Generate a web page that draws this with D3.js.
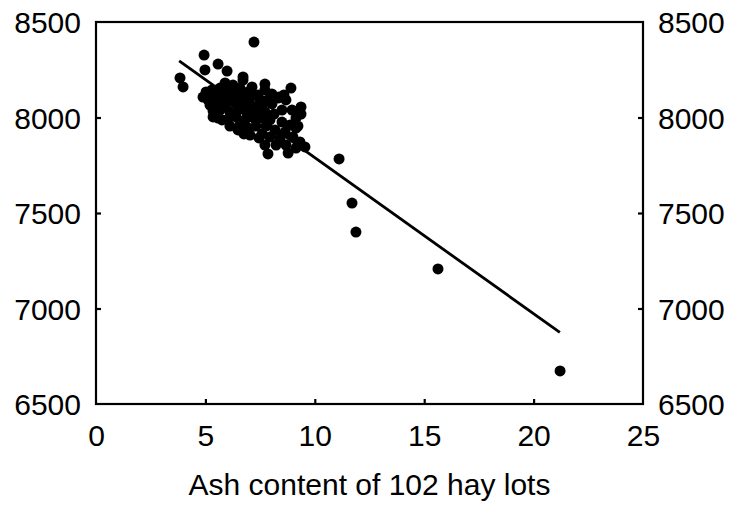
<!DOCTYPE html>
<html>
<head>
<meta charset="utf-8">
<script src="https://cdn.jsdelivr.net/npm/d3@7/dist/d3.min.js"></script>
<style>
  html, body { margin: 0; padding: 0; background: #fff; }
  svg { display: block; }
  text { font-family: "Liberation Sans", Arial, sans-serif; fill: #000; }
</style>
</head>
<body>
<svg id="chart" width="730" height="506"></svg>
<script>
// ---- data ----
const ashX = [
  3.84, 3.98, 4.94, 4.98, 5.58, 5.99, 6.72, 7.22, 7.72, 8.91,
  8.59, 8.32, 9.37, 9.37, 9.14, 9.55, 7.86, 8.78, 8.23, 7.04,
  7.45, 6.49, 5.76, 5.35, 4.89, 5.03, 11.11, 11.70, 11.88, 15.63,
  21.21,
  5.90, 6.26, 6.72, 7.13, 7.72,
  5.30, 5.67, 6.12, 6.58, 6.95, 7.40, 8.04,
  5.12, 5.44, 5.80, 6.22, 6.58, 7.04, 7.50, 7.86, 8.36, 8.68,
  5.21, 5.58, 5.94, 6.35, 6.72, 7.13, 7.59, 8.04, 8.50,
  5.35, 5.67, 6.12, 6.49, 6.90, 7.31, 7.72, 8.14, 8.96, 9.14,
  5.58, 6.03, 6.40, 6.81, 7.22, 7.59, 7.95, 8.50, 8.87, 9.23,
  6.12, 6.58, 6.95, 7.31, 7.77, 8.18, 8.64,
  6.76, 7.59, 7.95, 8.41, 9.00, 9.32,
  8.68, 9.14, 7.72,
  6.35, 7.27, 6.03, 6.86
];
const energyY = [
  8207, 8160, 8327, 8249, 8280, 8243, 8212, 8395, 8175, 8154,
  8118, 8102, 8055, 8018, 7945, 7846, 7809, 7814, 7856, 7908,
  7893, 7935, 7987, 8003, 8107, 8134, 7783, 7552, 7400, 7207,
  6673,
  8181, 8170, 8196, 8160, 8144,
  8144, 8154, 8144, 8154, 8134, 8118, 8123,
  8092, 8113, 8118, 8107, 8113, 8102, 8092, 8092, 8107, 8092,
  8065, 8076, 8071, 8076, 8065, 8060, 8060, 8071, 8039,
  8034, 8039, 8029, 8039, 8024, 8029, 8029, 8018, 8039, 7997,
  7997, 7992, 8003, 7987, 7997, 7997, 7987, 7976, 7961, 7955,
  7955, 7961, 7945, 7955, 7955, 7935, 7924,
  7914, 7914, 7898, 7893, 7898, 7872,
  7856, 7840, 7856,
  8134, 8050, 8092, 8092
];
const fitX = [3.8, 21.2];
const fitY = [8296, 6875];
const xTicks = [0, 5, 10, 15, 20, 25];
const yTicks = [6500, 7000, 7500, 8000, 8500];
const xTitle = "Ash content of 102 hay lots";

// ---- layout ----
const svg = d3.select("#chart");
const L = 96, R = 643, T = 22, B = 404;
const x = d3.scaleLinear().domain([0, 25]).range([L, R]);
const y = d3.scaleLinear().domain([6500, 8500]).range([B, T]);
const fontSize = 30;

// frame
svg.append("rect")
  .attr("x", L).attr("y", T).attr("width", R - L).attr("height", B - T)
  .attr("fill", "none").attr("stroke", "#000").attr("stroke-width", 2.2);

function styleAxis(g) {
  g.select(".domain").remove();
  g.selectAll(".tick line").attr("stroke", "#000").attr("stroke-width", 2.2);
  g.selectAll(".tick text").attr("font-size", fontSize)
    .attr("font-family", "'Liberation Sans', Arial, sans-serif").attr("fill", "#000");
}

// left axis, inward ticks
const yLeft = svg.append("g").attr("transform", `translate(${L},0)`)
  .call(d3.axisLeft(y).tickValues(yTicks).tickSize(-5).tickFormat(d3.format("d")));
styleAxis(yLeft);
yLeft.selectAll(".tick text").attr("x", -15).attr("dy", "0.35em");

// right axis, inward ticks
const yRight = svg.append("g").attr("transform", `translate(${R},0)`)
  .call(d3.axisRight(y).tickValues(yTicks).tickSize(-5).tickFormat(d3.format("d")));
styleAxis(yRight);
yRight.selectAll(".tick text").attr("x", 15).attr("dy", "0.35em");

// bottom axis, inward ticks
const xBottom = svg.append("g").attr("transform", `translate(0,${B})`)
  .call(d3.axisBottom(x).tickValues(xTicks).tickSize(-5).tickFormat(d3.format("d")));
styleAxis(xBottom);
xBottom.selectAll(".tick text").attr("y", 21).attr("dy", "0.71em");
// hide tick marks at the plot corners
xBottom.selectAll(".tick line").filter(d => d === 0 || d === 25).remove();
yLeft.selectAll(".tick line").filter(d => d === 6500 || d === 8500).remove();
yRight.selectAll(".tick line").filter(d => d === 6500 || d === 8500).remove();

// axis title
svg.append("text")
  .attr("x", (L + R) / 2).attr("y", 495)
  .attr("text-anchor", "middle").attr("font-size", fontSize)
  .text(xTitle);

// fitted line
svg.append("path")
  .datum(fitX.map((d, i) => [d, fitY[i]]))
  .attr("fill", "none").attr("stroke", "#000").attr("stroke-width", 2.8)
  .attr("d", d3.line().x(d => x(d[0])).y(d => y(d[1])));

// points
svg.append("g").selectAll("circle")
  .data(ashX.map((d, i) => [d, energyY[i]]))
  .join("circle")
  .attr("cx", d => x(d[0])).attr("cy", d => y(d[1]))
  .attr("r", 5.5).attr("fill", "#000");
</script>
</body>
</html>
